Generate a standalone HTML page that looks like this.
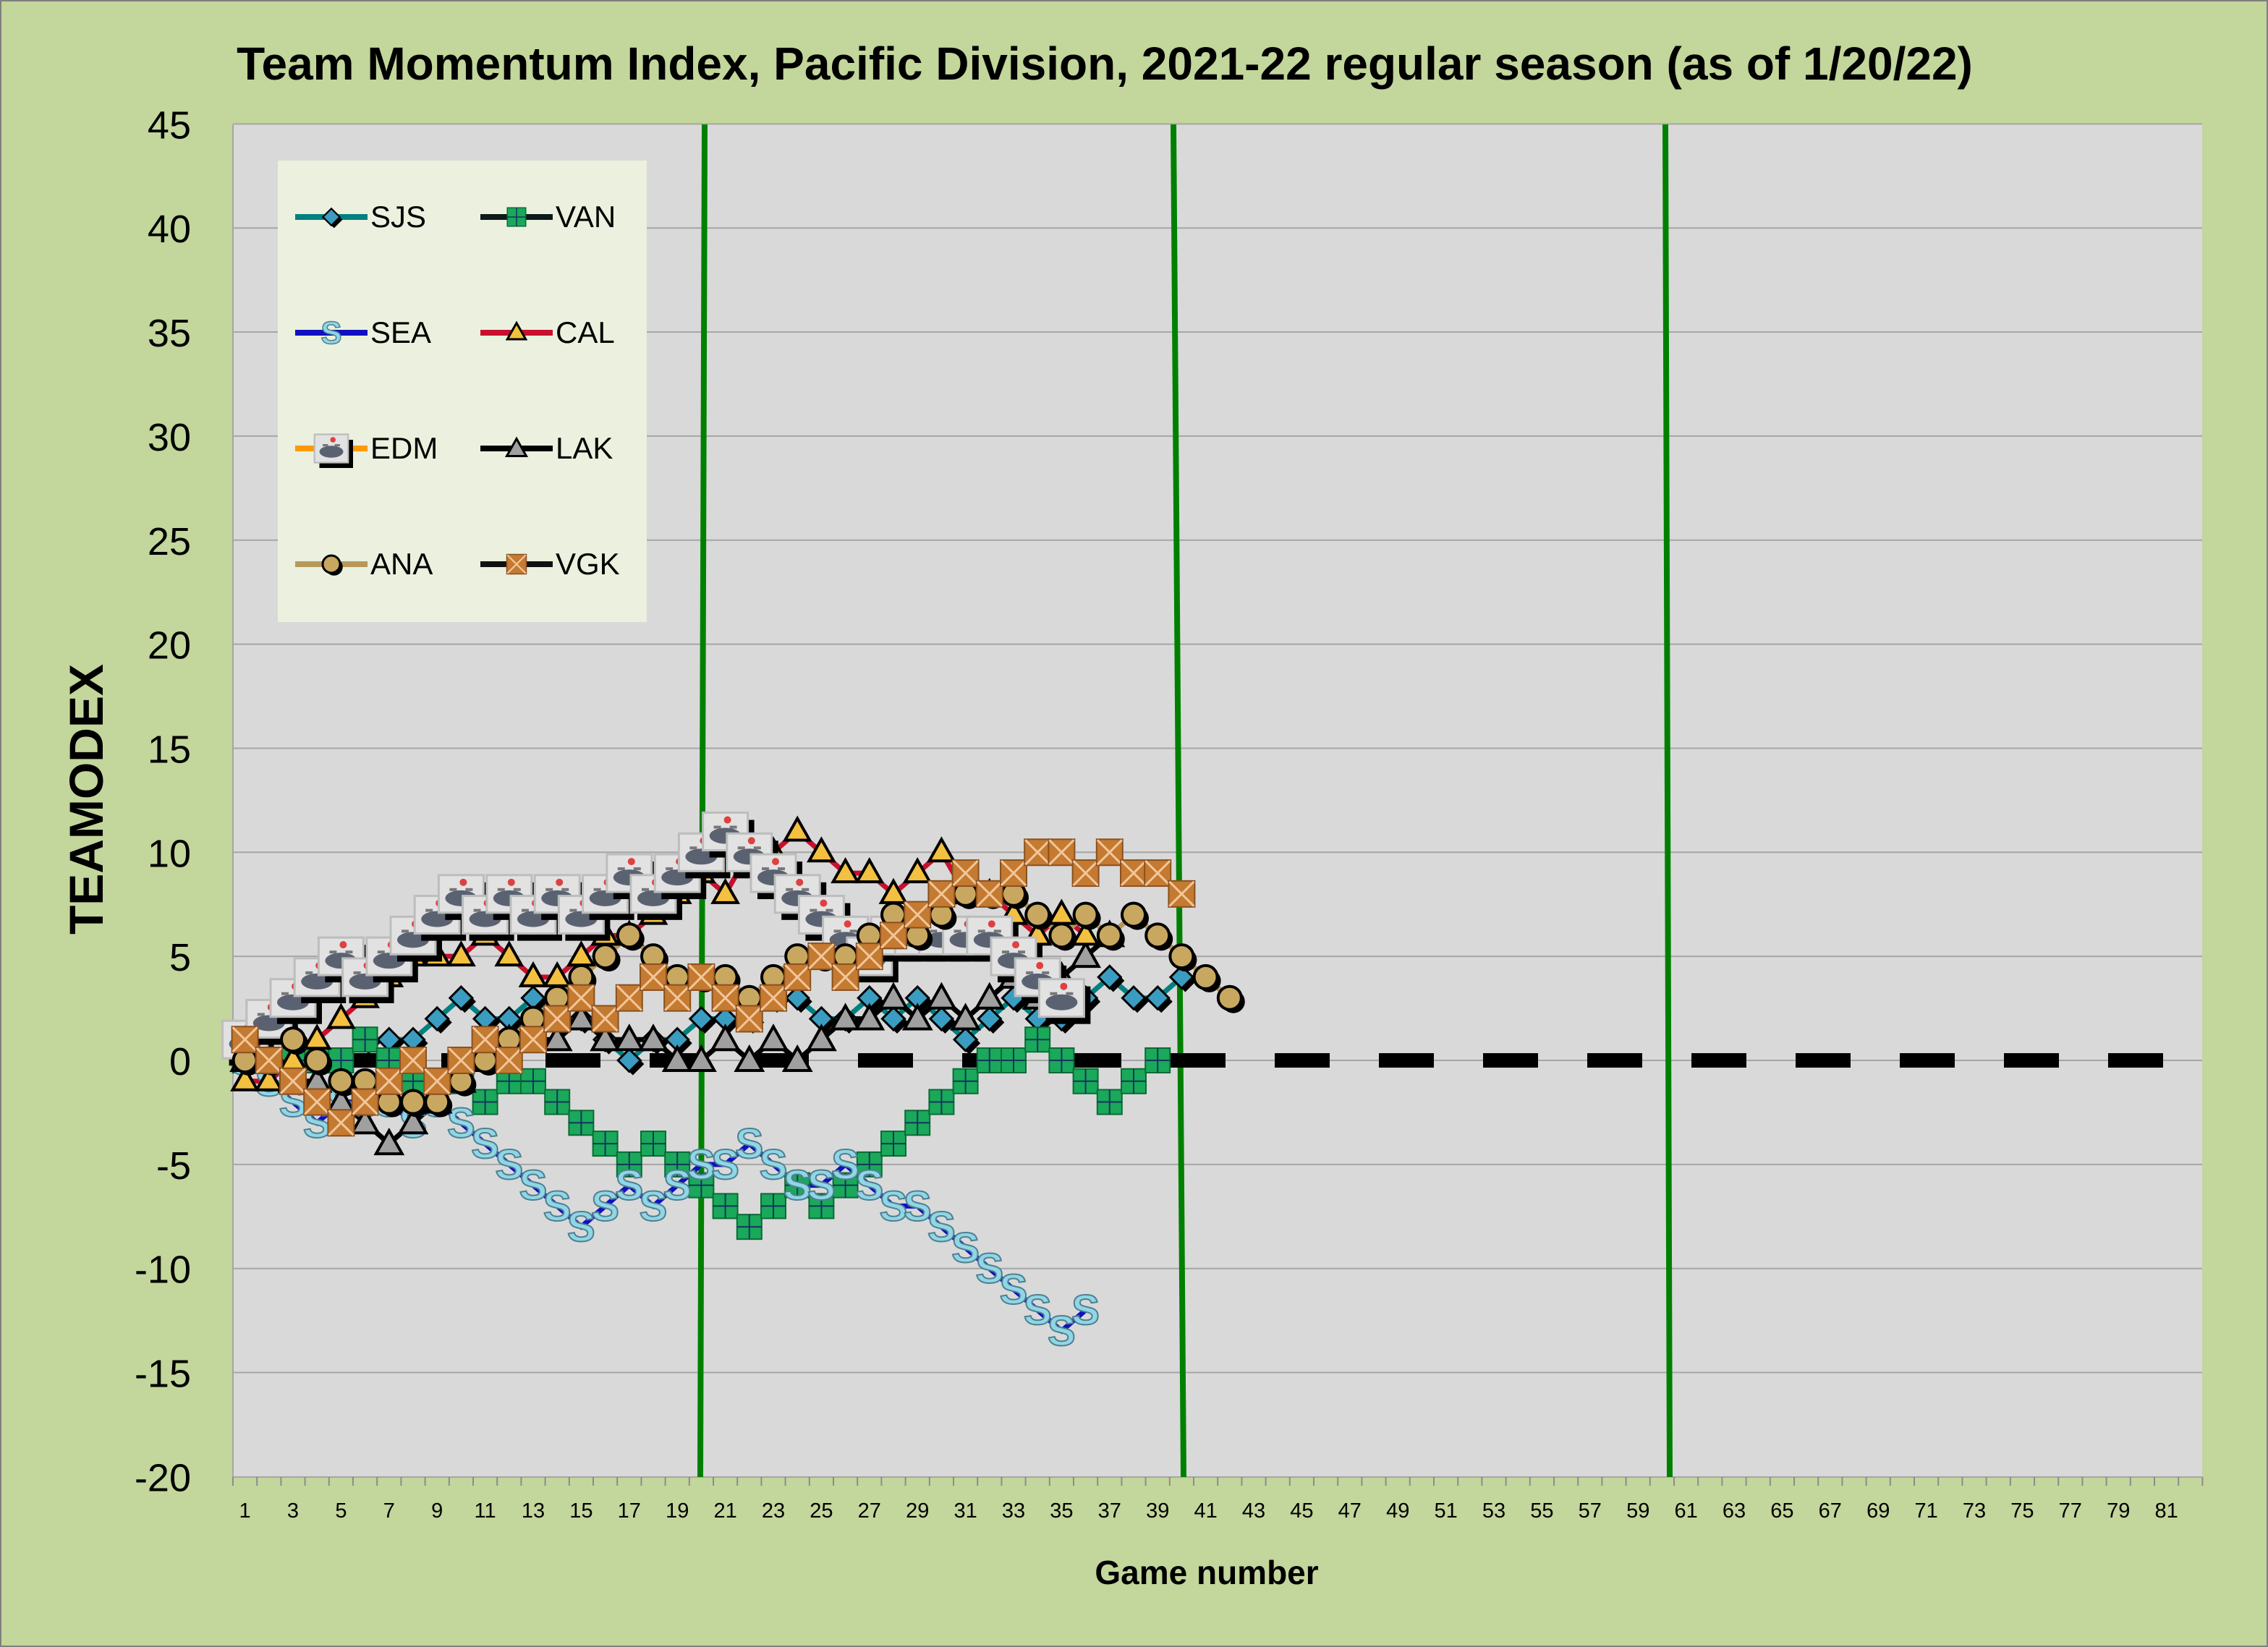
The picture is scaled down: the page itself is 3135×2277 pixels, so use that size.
<!DOCTYPE html>
<html><head><meta charset="utf-8">
<style>
html,body{margin:0;padding:0;background:#c3d69b;}
svg{display:block;font-family:"Liberation Sans",sans-serif;}
</style></head>
<body>
<svg id="c" width="3135" height="2277" viewBox="0 0 3135 2277" xmlns="http://www.w3.org/2000/svg">
<rect x="0" y="0" width="3135" height="2277" fill="#c3d69b" stroke="#7f7f7f" stroke-width="4"/>
<text x="1527" y="110" font-size="64" font-weight="bold" text-anchor="middle" fill="#000">Team Momentum Index, Pacific Division, 2021-22 regular season (as of 1/20/22)</text>
<rect x="322" y="172" width="2722" height="1870" fill="#d9d9d9"/>
<g id="grid"></g>
<g id="lines"></g>
<g id="series"></g>
<text transform="translate(142,1105) rotate(-90)" font-size="66" font-weight="bold" text-anchor="middle">TEAMODEX</text>
<text x="1668" y="2190" font-size="46" font-weight="bold" text-anchor="middle">Game number</text>
<g id="legend"></g>
</svg>
<script>
const NS="http://www.w3.org/2000/svg";
function el(parent,tag,attrs,txt){const e=document.createElementNS(NS,tag);for(const k in attrs)e.setAttribute(k,attrs[k]);if(txt!==undefined)e.textContent=txt;parent.appendChild(e);return e;}
const X=i=>322+(i-0.5)*33.2, Y=v=>1466-v*28.77;
const grid=document.getElementById('grid');
for(let v=-20;v<=45;v+=5){
  if(v>-20) el(grid,'line',{x1:322,x2:3044,y1:Y(v),y2:Y(v),stroke:'#a6a6a6','stroke-width':2});
  el(grid,'text',{x:264,y:Y(v)+20,'font-size':54,'text-anchor':'end'},String(v));
}
el(grid,'line',{x1:322,x2:322,y1:172,y2:2042,stroke:'#a6a6a6','stroke-width':2});
el(grid,'line',{x1:322,x2:3044,y1:2042,y2:2042,stroke:'#a6a6a6','stroke-width':2});
for(let i=0;i<=82;i++){const x=322+i*33.2;el(grid,'line',{x1:x,x2:x,y1:2042,y2:2054,stroke:'#8c8c8c','stroke-width':2});}
for(let i=1;i<=81;i+=2) el(grid,'text',{x:X(i),y:2098,'font-size':29,'text-anchor':'middle'},String(i));
const L=document.getElementById('lines');
[[974,968],[1622,1636],[2302,2308]].forEach(p=>el(L,'line',{x1:p[0],y1:172,x2:p[1],y2:2042,stroke:'#008000','stroke-width':8}));

const S=document.getElementById('series');
const data={
SJS:[0,0,0,0,0,1,1,1,2,3,2,2,3,2,2,1,0,1,1,2,2,2,3,3,2,2,3,2,3,2,1,2,3,2,2,3,4,3,3,4],
VAN:[0,0,0,0,0,1,0,-1,-1,-1,-2,-1,-1,-2,-3,-4,-5,-4,-5,-6,-7,-8,-7,-6,-7,-6,-5,-4,-3,-2,-1,0,0,1,0,-1,-2,-1,0],
SEA:[0,-1,-2,-3,-2,-2,-2,-3,-2,-3,-4,-5,-6,-7,-8,-7,-6,-7,-6,-5,-5,-4,-5,-6,-6,-5,-6,-7,-7,-8,-9,-10,-11,-12,-13,-12],
CAL:[-1,-1,0,1,2,3,4,5,5,5,6,5,4,4,5,6,6,7,8,9,8,10,10,11,10,9,9,8,9,10,8,8,7,6,7,6],
EDM:[1,2,3,4,5,4,5,6,7,8,7,8,7,8,7,8,9,8,9,10,11,10,9,8,7,6,5,6,6,6,6,6,5,4,3],
LAK:[0,0,-1,-1,-2,-3,-4,-3,-2,-1,0,1,1,1,2,1,1,1,0,0,1,0,1,0,1,2,2,3,2,3,2,3,4,3,4,5,6],
ANA:[0,0,1,0,-1,-1,-2,-2,-2,-1,0,1,2,3,4,5,6,5,4,4,4,3,4,5,5,5,6,7,6,7,8,8,8,7,6,7,6,7,6,5,4,3],
VGK:[1,0,-1,-2,-3,-2,-1,0,-1,0,1,0,1,2,3,2,3,4,3,4,3,2,3,4,5,4,5,6,7,8,9,8,9,10,10,9,10,9,9,8]
};
const lineCol={SJS:'#008080',VAN:'#0d1a1a',SEA:'#1010c0',CAL:'#c8102e',EDM:'#ff9900',LAK:'#000',ANA:'#b8985a',VGK:'#111'};
function marker(g,name,x,y){
  switch(name){
  case 'SJS': el(g,'rect',{x:x-11,y:y-11,width:22,height:22,fill:'#000',transform:`rotate(45 ${x+5} ${y+5}) translate(5 5)`});
              el(g,'rect',{x:x-11,y:y-11,width:22,height:22,fill:'#3a9cc0',stroke:'#000','stroke-width':3,transform:`rotate(45 ${x} ${y})`});break;
  case 'VAN': el(g,'rect',{x:x-17,y:y-17,width:34,height:34,fill:'#1aa85a',stroke:'#0b6b35','stroke-width':2});
              el(g,'path',{d:`M${x} ${y-17}V${y+17}M${x-17} ${y}H${x+17}`,stroke:'#13365e','stroke-width':2});break;
  case 'SEA': el(g,'text',{x:x,y:y+20,'font-size':58,'font-weight':'bold','text-anchor':'middle',fill:'#8fd6e6',stroke:'#4f8090','stroke-width':2},'S');break;
  case 'CAL': el(g,'path',{d:`M${x} ${y-18}L${x+17} ${y+12}L${x-17} ${y+12}Z`,fill:'#f4c040',stroke:'#000','stroke-width':4});break;
  case 'EDM': el(g,'rect',{x:x-22,y:y-16,width:62,height:52,fill:'#000'});
              el(g,'rect',{x:x-31,y:y-26,width:62,height:52,fill:'#e2e2e2',stroke:'#bdbdbd','stroke-width':3});
              el(g,'ellipse',{cx:x,cy:y+6,rx:22,ry:11,fill:'#5a6272'});
              el(g,'rect',{x:x-16,y:y-8,width:10,height:4,fill:'#777'});
              el(g,'rect',{x:x+6,y:y-8,width:10,height:4,fill:'#777'});
              el(g,'circle',{cx:x+3,cy:y-16,r:5,fill:'#e04040'});break;
  case 'LAK': el(g,'path',{d:`M${x} ${y-18}L${x+18} ${y+14}L${x-18} ${y+14}Z`,fill:'#a0a0a0',stroke:'#000','stroke-width':4});break;
  case 'ANA': el(g,'circle',{cx:x+5,cy:y+5,r:16,fill:'#000'});
              el(g,'circle',{cx:x,cy:y,r:16,fill:'#c8a860',stroke:'#000','stroke-width':4});break;
  case 'VGK': el(g,'rect',{x:x-18,y:y-18,width:36,height:36,fill:'#c47a30',stroke:'#8a5020','stroke-width':2});
              el(g,'path',{d:`M${x-17} ${y-17}L${x+17} ${y+17}M${x+17} ${y-17}L${x-17} ${y+17}`,stroke:'#f2c69a','stroke-width':3});break;
  }
}
const order=['SJS','VAN','SEA','LAK','CAL','EDM','ANA','VGK'];
order.forEach(n=>{
  const pts=data[n].map((v,i)=>X(i+1)+','+Y(v)).join(' ');
  el(S,'polyline',{points:pts,fill:'none',stroke:lineCol[n],'stroke-width':7});
  if(n==='SEA') el(S,'line',{x1:322,x2:3000,y1:1466,y2:1466,stroke:'#000','stroke-width':20,'stroke-dasharray':'76 68'});
});
order.forEach(n=>{const g=el(S,'g',{});data[n].forEach((v,i)=>marker(g,n,X(i+1),Y(v)));});
const LG=document.getElementById('legend');
el(LG,'rect',{x:384,y:222,width:510,height:638,fill:'#ebf1de'});
const leg=[['SJS','VAN'],['SEA','CAL'],['EDM','LAK'],['ANA','VGK']];
leg.forEach((row,r)=>{const y=300+r*160;row.forEach((n,c)=>{const x0=c?664:408;
  el(LG,'line',{x1:x0,x2:x0+100,y1:y,y2:y,stroke:lineCol[n],'stroke-width':8});
  const g=el(LG,'g',{transform:`translate(${x0+50} ${y}) scale(0.75) translate(${-(x0+50)} ${-y})`});marker(g,n,x0+50,y);
  el(LG,'text',{x:x0+104,y:y+14,'font-size':42},n);});});
</script>
</body></html>
